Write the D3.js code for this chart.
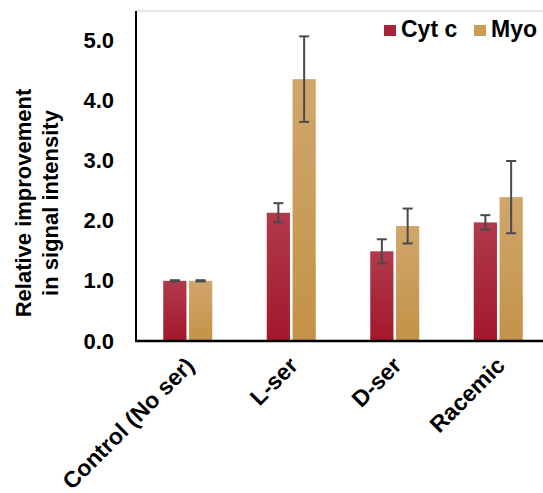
<!DOCTYPE html>
<html>
<head>
<meta charset="utf-8">
<script src="https://cdn.jsdelivr.net/npm/d3@7"></script>
<style>
  body { margin: 0; background: #fff; }
  text { font-family: "Liberation Sans", Arial, sans-serif; font-weight: bold; fill: #000; }
</style>
</head>
<body>
<div id="chart"></div>
<script>
var categories = ['Control (No ser)', 'L-ser', 'D-ser', 'Racemic'];
var series = ['Cyt c', 'Myo'];
var cytValues = [1.0, 2.13, 1.49, 1.97];
var cytErrors = [0.01, 0.16, 0.20, 0.12];
var myoValues = [1.0, 4.35, 1.91, 2.39];
var myoErrors = [0.01, 0.71, 0.29, 0.60];
var yTicks = [0, 1, 2, 3, 4, 5];

var svgWidth = 543,
	svgHeight = 493;

var margin = { t: 11, l: 136, b: 341 };

var svg = d3.select('#chart')
	.append('svg')
	.attr('width', svgWidth)
	.attr('height', svgHeight);

var defs = svg.append('defs');
var gradCyt = defs.append('linearGradient').attr('id', 'gCyt')
	.attr('x1', 0).attr('y1', 0).attr('x2', 0).attr('y2', 1);
gradCyt.append('stop').attr('offset', '0%').attr('stop-color', '#b03a4c');
gradCyt.append('stop').attr('offset', '100%').attr('stop-color', '#a3172b');
var gradMyo = defs.append('linearGradient').attr('id', 'gMyo')
	.attr('x1', 0).attr('y1', 0).attr('x2', 0).attr('y2', 1);
gradMyo.append('stop').attr('offset', '0%').attr('stop-color', '#d0a66c');
gradMyo.append('stop').attr('offset', '100%').attr('stop-color', '#c29347');

var fills = { 'Cyt c': 'url(#gCyt)', 'Myo': 'url(#gMyo)' };
var legendFills = { 'Cyt c': '#a8233a', 'Myo': '#c99c56' };

var yScale = d3.scaleLinear()
	.domain([0, 5])
	.range([margin.b, margin.b - 5 * 60.2]);

var x0 = d3.scaleBand()
	.domain(categories)
	.range([136, 550]);

var x1 = d3.scaleBand()
	.domain(series)
	.range([x0.bandwidth() / 2 - 24.5, x0.bandwidth() / 2 + 24.5])
	.paddingInner(0.1);

var data = categories.map((c, i) => ({
	cat: c,
	vals: [
		{ s: 'Cyt c', v: cytValues[i], e: cytErrors[i] },
		{ s: 'Myo', v: myoValues[i], e: myoErrors[i] }
	]
}));

// top frame line
svg.append('line')
	.attr('x1', margin.l).attr('x2', svgWidth)
	.attr('y1', margin.t).attr('y2', margin.t)
	.attr('stroke', '#cfcfcf').attr('stroke-width', 1);

var groups = svg.selectAll('.grp')
	.data(data)
	.enter()
	.append('g')
	.attr('transform', d => `translate(${x0(d.cat)},0)`);

groups.selectAll('rect')
	.data(d => d.vals)
	.enter()
	.append('rect')
	.attr('x', d => x1(d.s))
	.attr('width', x1.bandwidth())
	.attr('y', d => yScale(d.v))
	.attr('height', d => yScale(0) - yScale(d.v))
	.attr('fill', d => fills[d.s]);

var err = groups.selectAll('.err')
	.data(d => d.vals)
	.enter()
	.append('g')
	.attr('stroke', '#4a4a4a')
	.attr('stroke-width', 2);

err.append('line')
	.attr('x1', d => x1(d.s) + x1.bandwidth() / 2)
	.attr('x2', d => x1(d.s) + x1.bandwidth() / 2)
	.attr('y1', d => yScale(d.v + d.e))
	.attr('y2', d => yScale(d.v - d.e));
err.append('line')
	.attr('x1', d => x1(d.s) + x1.bandwidth() / 2 - 5)
	.attr('x2', d => x1(d.s) + x1.bandwidth() / 2 + 5)
	.attr('y1', d => yScale(d.v + d.e))
	.attr('y2', d => yScale(d.v + d.e));
err.append('line')
	.attr('x1', d => x1(d.s) + x1.bandwidth() / 2 - 5)
	.attr('x2', d => x1(d.s) + x1.bandwidth() / 2 + 5)
	.attr('y1', d => yScale(d.v - d.e))
	.attr('y2', d => yScale(d.v - d.e));

// axes
var yAxis = svg.append('g')
	.attr('transform', `translate(${margin.l},0)`)
	.call(d3.axisLeft(yScale).tickValues(yTicks).tickFormat(d3.format('.1f')).tickSize(0).tickPadding(22));
yAxis.select('.domain').remove();
yAxis.selectAll('text').style('font-size', '22px').style('font-family', '"Liberation Sans", Arial, sans-serif');

svg.append('line')
	.attr('x1', margin.l).attr('x2', margin.l)
	.attr('y1', margin.t).attr('y2', margin.b)
	.attr('stroke', '#000').attr('stroke-width', 2);
svg.append('line')
	.attr('x1', margin.l - 1).attr('x2', svgWidth)
	.attr('y1', margin.b).attr('y2', margin.b)
	.attr('stroke', '#000').attr('stroke-width', 2.5);

svg.selectAll('.xlab')
	.data(categories)
	.enter()
	.append('text')
	.attr('text-anchor', 'end')
	.attr('transform', d => `translate(${x0(d) + x0.bandwidth() / 2 + 8},${367})rotate(-45)`)
	.style('font-size', '23px')
	.text(d => d);

// y title
var title = svg.append('text')
	.attr('transform', 'translate(31,203)rotate(-90)')
	.attr('text-anchor', 'middle')
	.style('font-size', '22px');
title.append('tspan').attr('x', 0).attr('y', 0).text('Relative improvement');
title.append('tspan').attr('x', 0).attr('y', 27).text('in signal intensity');

// legend
var legendX = [384, 474];
var legend = svg.selectAll('.leg')
	.data(series)
	.enter()
	.append('g')
	.attr('transform', (d, i) => `translate(${legendX[i]},25)`);
legend.append('rect')
	.attr('width', 12).attr('height', 11)
	.attr('fill', d => legendFills[d]);
legend.append('text')
	.attr('x', 17).attr('y', 12)
	.style('font-size', '23px')
	.text(d => d);
</script>
</body>
</html>
